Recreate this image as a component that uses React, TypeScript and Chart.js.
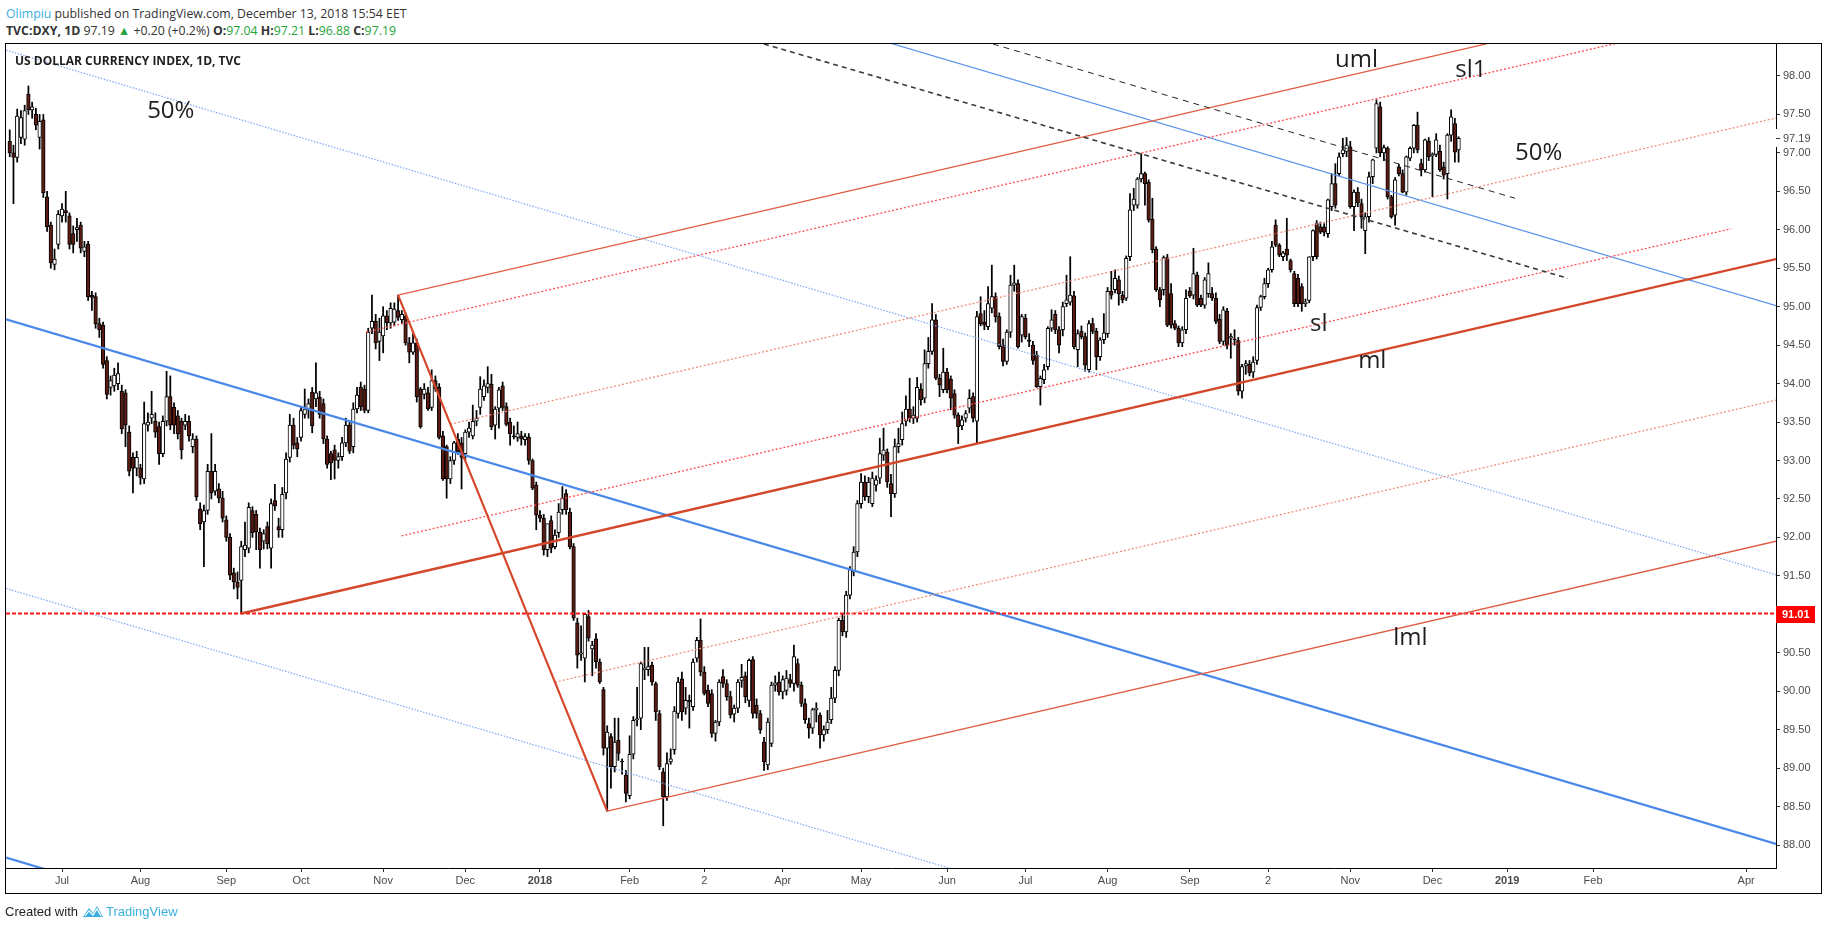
import React, { useEffect, useRef } from "react";
import { Chart, registerables } from "chart.js";

Chart.register(...registerables);

// ---------- Daily OHLC, TVC:DXY (bar index 0 = 13 Jun 2017, last = 13 Dec 2018) ----------
const opens = [
  97.15,97.00,96.94,97.20,97.18,97.76,97.56,97.50,97.20,97.43,
  96.43,96.06,95.55,95.81,96.18,96.25,96.18,95.95,96.00,96.06,
  95.72,95.81,95.15,95.13,94.78,94.76,94.30,93.95,93.97,94.00,
  93.90,93.88,93.37,93.04,92.90,92.90,92.76,93.46,93.55,93.51,
  93.44,93.09,93.51,93.83,93.69,93.58,93.51,93.46,93.51,93.18,
  93.28,92.37,92.20,92.35,92.86,92.60,92.63,92.51,92.23,92.00,
  91.54,91.42,91.44,91.84,91.86,92.35,92.30,92.07,91.95,92.14,
  91.86,92.48,92.14,92.10,92.58,93.04,93.46,93.23,93.30,93.60,
  93.66,93.89,93.80,93.82,93.74,93.28,93.09,93.14,93.00,93.05,
  93.23,93.46,93.18,93.67,93.95,93.93,93.65,94.72,94.81,94.55,
  94.62,94.88,94.79,94.80,94.95,94.83,94.88,94.53,94.41,94.53,
  93.93,93.86,93.88,93.69,94.04,93.95,93.32,93.18,92.76,93.00,
  93.28,93.23,93.09,93.37,93.32,93.51,93.69,93.83,93.95,93.99,
  93.46,93.68,93.97,93.70,93.50,93.32,93.30,93.32,93.27,93.30,
  93.00,92.68,92.29,92.25,91.84,92.22,91.88,92.06,92.36,92.57,
  92.33,91.88,90.89,90.48,90.43,90.97,90.55,90.68,90.38,90.02,
  89.26,89.41,89.02,89.36,89.09,88.91,88.64,89.18,89.63,89.65,
  90.28,90.28,90.34,90.10,89.71,88.95,88.63,89.08,89.24,89.71,
  90.16,89.78,89.88,89.80,90.43,90.66,90.25,90.01,89.97,89.45,
  89.60,90.19,90.10,89.93,89.70,89.78,90.14,90.20,89.88,90.41,
  89.82,89.71,89.34,89.04,89.32,90.08,90.12,89.99,90.01,90.15,
  90.10,90.36,90.08,89.84,89.58,89.52,89.76,89.69,89.43,89.50,
  89.63,89.91,90.27,90.92,90.77,91.25,91.55,91.81,92.44,92.72,
  92.53,92.44,92.68,92.77,93.07,93.11,92.70,92.57,93.18,93.27,
  93.51,93.67,93.55,93.55,93.93,93.81,94.26,94.42,94.83,94.07,
  93.92,94.15,94.06,93.87,93.59,93.45,93.55,93.68,93.83,93.51,
  94.91,94.80,94.74,94.98,95.13,94.87,94.50,94.29,94.67,95.28,
  95.30,94.63,94.85,94.57,94.50,94.37,93.96,94.05,94.22,94.72,
  94.90,94.70,94.70,95.04,95.06,95.14,94.44,94.68,94.61,94.18,
  94.78,94.68,94.35,94.57,94.65,95.20,95.22,95.35,95.15,95.11,
  95.65,96.32,96.32,96.66,96.73,96.62,96.14,95.75,95.22,95.22,
  95.64,95.17,94.78,94.72,94.53,94.70,95.20,95.15,95.41,95.11,
  95.02,95.17,95.17,95.11,94.84,94.55,94.94,94.59,94.58,94.56,
  93.90,94.23,94.25,94.15,94.30,94.99,95.13,95.30,95.48,96.06,
  95.80,95.65,95.75,95.60,95.43,95.37,95.26,95.04,95.08,95.65,
  96.08,96.04,96.04,95.95,96.30,96.60,96.73,96.99,97.02,97.08,
  96.30,96.49,96.34,95.99,96.17,96.69,97.06,97.60,97.00,97.06,
  96.43,96.19,96.82,96.73,96.49,96.93,97.06,97.36,96.86,96.78,
  97.15,96.96,96.98,97.02,96.82,96.73,97.23,97.38,97.04,
];
const highs = [
  97.30,97.10,97.57,97.55,97.62,97.87,97.66,97.58,97.50,97.50,
  96.50,96.10,95.75,96.25,96.34,96.50,96.22,96.05,96.15,96.10,
  95.85,95.85,95.20,95.18,94.85,94.80,94.35,94.10,94.20,94.27,
  93.98,93.92,93.45,93.10,93.12,92.95,93.76,93.62,93.90,93.62,
  93.50,93.58,94.16,94.10,93.75,93.65,93.55,93.60,93.58,93.35,
  93.32,92.45,92.42,92.95,93.35,92.95,92.70,92.60,92.28,92.05,
  91.60,91.55,91.95,92.20,92.45,92.40,92.35,92.12,92.10,92.20,
  92.50,92.69,92.25,92.65,93.10,93.60,93.55,93.30,93.70,93.93,
  93.80,93.95,94.27,93.90,93.80,93.32,93.12,93.20,93.10,93.30,
  93.55,93.50,93.75,93.95,94.02,93.98,94.72,95.15,94.90,94.85,
  95.00,94.95,95.05,95.05,95.15,94.95,94.92,94.60,94.65,94.58,
  93.95,94.00,93.95,94.18,94.10,94.00,93.38,93.20,93.05,93.25,
  93.35,93.30,93.40,93.50,93.72,93.65,94.09,94.05,94.22,94.12,
  93.70,93.95,94.02,93.75,93.55,93.45,93.50,93.38,93.35,93.35,
  93.02,92.72,92.35,92.30,92.10,92.28,92.10,92.44,92.66,92.62,
  92.38,91.92,90.95,90.85,91.01,91.05,90.65,90.75,90.42,90.05,
  89.55,89.45,89.65,89.65,89.12,88.97,89.42,89.67,90.05,90.38,
  90.57,90.57,90.38,90.12,89.75,89.00,89.20,89.25,89.80,90.18,
  90.25,90.05,89.95,90.42,90.70,90.94,90.32,90.08,90.02,89.62,
  90.15,90.28,90.15,90.00,89.82,90.15,90.35,90.25,90.42,90.45,
  89.90,89.75,89.40,89.65,90.12,90.20,90.25,90.20,90.27,90.22,
  90.60,90.42,90.12,89.90,89.65,89.78,89.85,89.72,89.55,89.75,
  90.05,90.32,90.95,91.00,91.30,91.62,91.88,92.48,92.83,92.80,
  92.78,92.85,92.80,93.29,93.42,93.15,92.82,93.28,93.42,93.63,
  93.84,94.07,93.70,94.08,94.00,94.44,94.60,95.04,94.90,94.12,
  94.46,94.20,94.10,93.92,93.62,93.58,93.65,93.92,93.88,94.94,
  95.13,94.95,95.26,95.54,95.18,94.92,94.58,94.70,95.41,95.54,
  95.35,94.90,94.90,94.65,94.55,94.42,94.10,94.25,94.74,94.96,
  94.95,94.74,95.06,95.41,95.65,95.20,94.70,94.75,94.66,94.82,
  94.85,94.72,94.60,94.91,95.25,95.46,95.48,95.40,95.20,95.66,
  96.47,96.54,96.68,96.99,96.75,96.65,96.41,95.78,95.25,95.66,
  95.68,95.30,94.82,94.75,94.74,95.22,95.25,95.76,95.45,95.15,
  95.38,95.57,95.25,95.18,94.90,95.00,94.98,94.65,94.70,94.60,
  94.25,94.30,94.30,94.35,95.02,95.15,95.37,95.50,95.85,96.13,
  95.82,95.72,96.15,95.62,95.46,95.42,95.30,95.10,95.65,96.00,
  96.12,96.10,96.08,96.40,96.73,96.86,97.00,97.19,97.20,97.15,
  96.52,96.55,96.40,96.22,96.75,96.92,97.69,97.66,97.10,97.08,
  96.45,96.68,96.85,96.78,96.96,97.08,97.37,97.53,96.92,97.18,
  97.20,97.00,97.25,97.10,96.88,97.25,97.56,97.45,97.21,
];
const lows = [
  96.95,96.34,96.88,97.12,97.10,97.50,97.45,97.30,97.05,96.42,
  95.98,95.50,95.48,95.75,96.10,96.10,95.75,95.70,95.85,95.70,
  95.65,95.08,94.95,94.72,94.60,94.20,93.80,93.85,93.90,93.92,
  93.35,93.18,92.80,92.58,92.80,92.69,92.70,93.38,93.48,93.30,
  92.95,93.05,93.45,93.40,93.35,93.28,93.02,93.40,93.25,93.10,
  92.48,92.10,91.62,92.30,92.50,92.55,92.45,92.20,91.95,91.45,
  91.33,91.20,91.01,91.75,91.80,92.00,91.84,91.60,91.85,91.85,
  91.60,92.35,92.00,92.00,92.50,92.98,93.15,93.05,93.25,93.55,
  93.55,93.36,93.70,93.55,93.22,92.90,92.75,92.76,92.90,93.00,
  93.18,93.09,93.10,93.62,93.65,93.62,93.62,94.65,94.45,94.30,
  94.40,94.70,94.72,94.75,94.82,94.78,94.50,94.27,94.38,93.76,
  93.42,93.80,93.65,93.65,93.90,93.28,92.74,92.51,92.70,92.95,
  93.08,92.63,93.00,93.30,93.28,93.45,93.60,93.78,93.88,93.40,
  93.28,93.42,93.65,93.45,93.20,93.28,93.25,93.20,93.20,92.95,
  92.62,92.10,92.20,91.77,91.75,91.80,91.85,92.00,92.30,92.30,
  91.85,90.92,90.30,90.40,90.12,90.65,90.20,90.30,90.10,89.17,
  88.44,88.74,88.95,89.10,88.92,88.56,88.60,89.12,89.55,89.50,
  90.15,90.20,90.08,89.62,88.98,88.25,88.58,89.05,89.18,89.65,
  89.62,89.70,89.52,89.75,90.38,90.20,89.95,89.80,89.40,89.35,
  89.55,90.05,89.88,89.65,89.60,89.72,90.05,89.85,89.80,89.65,
  89.65,89.45,88.97,88.98,89.28,90.00,89.95,89.90,89.95,90.05,
  90.00,90.05,89.80,89.58,89.39,89.45,89.60,89.26,89.35,89.45,
  89.58,89.85,90.20,90.72,90.70,91.20,91.50,91.75,92.38,92.48,
  92.45,92.40,92.60,92.70,93.00,92.65,92.27,92.52,93.10,93.20,
  93.45,93.50,93.48,93.50,93.72,93.75,94.20,94.38,94.05,93.83,
  93.88,93.88,93.66,93.55,93.22,93.40,93.50,93.62,93.50,93.22,
  94.75,94.70,94.70,94.92,94.80,94.45,94.23,94.25,94.60,95.20,
  94.46,94.54,94.58,94.48,94.25,93.95,93.72,94.00,94.18,94.68,
  94.65,94.40,94.62,95.00,95.02,94.45,94.22,94.58,94.16,94.15,
  94.65,94.18,94.30,94.52,94.60,95.10,95.18,95.02,95.05,95.08,
  95.60,96.25,96.28,96.62,96.32,96.10,95.70,95.20,95.00,95.15,
  94.74,94.72,94.70,94.48,94.48,94.65,95.12,95.10,95.00,95.00,
  94.98,95.12,95.08,94.78,94.52,94.50,94.45,94.33,94.50,93.85,
  93.81,94.12,94.10,94.08,94.25,94.95,95.10,95.25,95.45,95.78,
  95.65,95.60,95.60,95.45,95.00,95.00,94.94,95.00,95.05,95.60,
  95.62,95.95,95.92,95.90,96.25,96.28,96.70,96.95,96.95,96.28,
  95.99,96.30,96.02,95.69,96.10,96.60,97.00,96.95,96.90,96.40,
  96.15,96.06,96.70,96.48,96.45,96.90,97.00,97.00,96.70,96.75,
  96.90,96.43,96.95,96.76,96.66,96.40,97.15,96.88,96.88,
];
const closes = [
  97.00,96.94,97.48,97.46,97.55,97.56,97.60,97.36,97.41,96.48,
  96.04,95.57,95.62,96.20,96.27,96.22,95.81,95.81,96.03,95.76,
  95.78,95.13,95.12,94.78,94.70,94.25,93.86,94.04,94.11,94.13,
  93.41,93.46,92.86,92.90,93.04,92.78,93.48,93.50,93.60,93.37,
  93.09,93.51,93.83,93.46,93.46,93.35,93.14,93.51,93.32,93.28,
  92.53,92.18,92.35,92.86,92.58,92.86,92.51,92.25,92.00,91.51,
  91.42,91.35,91.88,91.90,92.39,92.06,92.07,91.84,92.05,91.92,
  92.44,92.41,92.10,92.56,93.02,93.46,93.20,93.15,93.65,93.67,
  93.74,93.45,93.88,93.60,93.28,92.95,92.97,93.00,93.05,93.23,
  93.46,93.12,93.67,93.85,93.70,93.65,94.67,94.81,94.53,94.67,
  94.88,94.79,94.98,94.97,94.86,94.90,94.53,94.41,94.53,93.83,
  93.44,93.93,93.67,94.04,93.93,93.30,92.76,92.76,93.00,93.23,
  93.11,93.04,93.37,93.42,93.51,93.55,93.93,93.97,94.00,93.44,
  93.67,93.92,93.69,93.47,93.35,93.31,93.35,93.28,93.31,93.00,
  92.64,92.29,92.25,91.84,92.18,91.86,92.03,92.33,92.51,92.36,
  91.88,90.95,90.47,90.50,91.00,90.69,90.60,90.38,90.12,89.26,
  89.47,89.02,89.34,89.19,89.08,88.67,89.18,89.62,89.64,90.36,
  90.30,90.32,90.12,89.73,89.02,88.63,89.06,89.12,89.74,90.12,
  89.73,89.88,89.86,90.38,90.66,90.25,89.97,89.84,89.45,89.60,
  90.12,90.10,89.93,89.69,89.78,90.12,90.18,89.93,90.40,89.71,
  89.71,89.50,89.08,89.60,90.08,90.11,89.99,90.15,90.17,90.10,
  90.45,90.08,89.84,89.63,89.52,89.76,89.78,89.43,89.50,89.60,
  89.91,90.27,90.92,90.77,91.25,91.58,91.81,92.44,92.72,92.53,
  92.72,92.77,92.75,93.09,93.14,92.72,92.57,93.18,93.22,93.48,
  93.67,93.55,93.59,93.95,93.79,94.26,94.42,94.83,94.07,93.98,
  94.15,93.92,93.81,93.59,93.44,93.53,93.61,93.81,93.55,94.87,
  94.78,94.76,95.04,95.13,94.87,94.48,94.29,94.67,95.28,95.31,
  94.48,94.87,94.61,94.55,94.30,93.96,94.07,94.18,94.72,94.83,
  94.70,94.50,95.00,95.09,95.15,94.48,94.65,94.61,94.24,94.78,
  94.68,94.35,94.57,94.66,95.20,95.15,95.37,95.17,95.09,95.63,
  96.26,96.40,96.66,96.73,96.60,96.13,95.74,95.22,95.09,95.64,
  94.76,94.76,94.72,94.53,94.70,95.11,95.14,95.43,95.02,95.02,
  95.35,95.43,95.11,94.81,94.55,94.96,94.50,94.61,94.57,93.90,
  94.22,94.26,94.14,94.28,94.99,95.13,95.30,95.48,95.78,95.80,
  95.67,95.70,95.67,95.48,95.04,95.04,95.04,95.06,95.65,95.99,
  95.65,95.97,95.97,96.39,96.60,96.32,96.95,97.04,97.10,96.30,
  96.49,96.35,96.17,96.17,96.69,96.91,97.64,97.00,97.07,96.43,
  96.17,96.65,96.73,96.49,96.95,97.06,97.36,97.04,96.78,97.17,
  96.95,96.98,97.17,96.78,96.71,97.23,97.47,97.01,97.19,
];

// ---------- Axes ----------
const xTickBars = [14, 35, 58, 78, 100, 122, 142, 166, 186, 207, 228, 251, 272, 294, 316, 337, 359, 381, 401, 424, 465];
const xTickLabels = ["Jul", "Aug", "Sep", "Oct", "Nov", "Dec", "2018", "Feb", "2", "Apr", "May", "Jun", "Jul", "Aug", "Sep", "2", "Nov", "Dec", "2019", "Feb", "Apr"];
const priceTicks = [88, 88.5, 89, 89.5, 90, 90.5, 91, 91.5, 92, 92.5, 93, 93.5, 94, 94.5, 95, 95.5, 96, 96.5, 97, 97.5, 98];
const xRange = [-1, 473];
const yRange = [87.701, 98.429];

// ---------- Drawings (anchors in [bar index, price]) ----------
const pivotA = [62, 91.01];
const pivotB = [104, 95.15];
const pivotC = [160, 88.44];
const sl1Anchor = [95.4, 94.67];
const slAnchor = [104.9, 92.02];
const slEndBar = 461;
const blueMidLine = [[-1, 94.836], [473, 88.013]];
const blueHalfWidth = 3.5;
const dashLineA = [[202, 98.416], [417.3, 95.369]];
const dashLineB = [[263.3, 98.416], [403.1, 96.41]];
const levelLine = 91.01;
const lastPrice = 97.19;
const chartNotes = [
  { text: "50%", at: [36.8, 97.454] },
  { text: "uml", at: [354.9, 98.117] },
  { text: "sl1", at: [387.1, 97.987] },
  { text: "50%", at: [403.1, 96.908] },
  { text: "sl", at: [348.2, 94.684] },
  { text: "ml", at: [361.1, 94.203] },
  { text: "lml", at: [370.5, 90.6] },
];

const GREEN = "#26a33a";

function seg(p: number[], q: number[], color: string, width: number, dash: number[], order: number) {
  return {
    type: "line" as const,
    data: [{ x: p[0], y: p[1] }, { x: q[0], y: q[1] }],
    borderColor: color,
    borderWidth: width,
    borderDash: dash,
    pointRadius: 0,
    pointHoverRadius: 0,
    fill: false,
    tension: 0,
    order,
    clip: 0,
  };
}

function buildLines() {
  const XR = xRange[1];
  const M = [(pivotB[0] + pivotC[0]) / 2, (pivotB[1] + pivotC[1]) / 2];
  const slope = (M[1] - pivotA[1]) / (M[0] - pivotA[0]);
  const ray = (p: number[], xe: number) => [xe, p[1] + slope * (xe - p[0])];
  const up = [(pivotB[0] + M[0]) / 2, (pivotB[1] + M[1]) / 2];
  const dn = [(pivotC[0] + M[0]) / 2, (pivotC[1] + M[1]) / 2];
  const off = (line: number[][], d: number) => [[line[0][0], line[0][1] + d], [line[1][0], line[1][1] + d]];
  const redDot = "#ff5050";
  const salmon = "#f0907c";
  const out: any[] = [];
  // blue channel
  const b2 = off(blueMidLine, 2 * blueHalfWidth);
  const b1 = off(blueMidLine, blueHalfWidth);
  const b_1 = off(blueMidLine, -blueHalfWidth);
  const b_2 = off(blueMidLine, -2 * blueHalfWidth);
  out.push(seg(b2[0], b2[1], "#5b93ec", 1.2, [], 6));
  out.push(seg(b1[0], b1[1], "#7fa9f0", 1.2, [1.5, 1.5], 6));
  out.push(seg(blueMidLine[0], blueMidLine[1], "#4a88ea", 2.2, [], 6));
  out.push(seg(b_1[0], b_1[1], "#7fa9f0", 1.2, [1.5, 1.5], 6));
  out.push(seg(b_2[0], b_2[1], "#4a88ea", 2.2, [], 6));
  // horizontal level
  out.push(seg([xRange[0], levelLine], [XR, levelLine], "#ff1a1a", 2, [4, 2], 5));
  // pitchfork
  out.push(seg(pivotB, pivotC, "#d4472a", 2.2, [], 4));
  out.push(seg(pivotA, ray(pivotA, XR), "#d4472a", 2.4, [], 4));
  out.push(seg(pivotB, ray(pivotB, XR), "#e25d45", 1.3, [], 4));
  out.push(seg(pivotC, ray(pivotC, XR), "#e25d45", 1.3, [], 4));
  out.push(seg(up, ray(up, XR), salmon, 1.3, [2, 2], 4));
  out.push(seg(dn, ray(dn, XR), salmon, 1.3, [2, 2], 4));
  out.push(seg(sl1Anchor, ray(sl1Anchor, XR), redDot, 1.3, [2, 2], 4));
  out.push(seg(slAnchor, ray(slAnchor, slEndBar), redDot, 1.3, [2, 2], 4));
  // black dashed
  out.push(seg(dashLineA[0], dashLineA[1], "#3a3a3a", 1.6, [5, 4], 3));
  out.push(seg(dashLineB[0], dashLineB[1], "#222222", 1, [6, 5], 3));
  return out;
}

const overlayPlugin = {
  id: "overlay",
  afterDraw(chart: any) {
    const { ctx, chartArea: a } = chart;
    const x = chart.scales.x;
    const y = chart.scales.y;
    ctx.save();
    // outer frame
    ctx.strokeStyle = "#000";
    ctx.lineWidth = 1;
    ctx.strokeRect(5.5, 43.5, 1816, 850);
    // chart title
    ctx.fillStyle = "#1e1e1e";
    ctx.textBaseline = "alphabetic";
    ctx.textAlign = "left";
    ctx.font = "bold 12px 'Open Sans', sans-serif";
    ctx.fillText("US DOLLAR CURRENCY INDEX, 1D, TVC", a.left + 9, a.top + 22);
    // notes
    ctx.font = "24px 'Open Sans', sans-serif";
    ctx.fillStyle = "#1e1e1e";
    for (const n of chartNotes) {
      ctx.fillText(n.text, x.getPixelForValue(n.at[0]), y.getPixelForValue(n.at[1]));
    }
    // level price label
    const py = Math.round(y.getPixelForValue(levelLine));
    ctx.fillStyle = "#ff0000";
    ctx.fillRect(a.right, py - 8, 39, 17);
    ctx.fillStyle = "#fff";
    ctx.font = "bold 11px 'Liberation Sans', Arial, sans-serif";
    ctx.textBaseline = "middle";
    ctx.fillText("91.01", a.right + 6, py + 1);
    // last price label
    const lp = Math.round(y.getPixelForValue(lastPrice));
    ctx.fillStyle = "#fff";
    ctx.fillRect(a.right - 1, lp - 9, 40, 18);
    ctx.strokeStyle = "#333";
    ctx.beginPath();
    ctx.moveTo(a.right, lp + 0.5);
    ctx.lineTo(a.right + 4, lp + 0.5);
    ctx.stroke();
    ctx.fillStyle = "#4a4a4a";
    ctx.font = "11px 'Liberation Sans', Arial, sans-serif";
    ctx.fillText("97.19", a.right + 7, lp + 1);
    ctx.restore();
  },
};

function DxyChart() {
  const ref = useRef<HTMLCanvasElement | null>(null);
  useEffect(() => {
    if (!ref.current) return;
    const bars = closes.map((_, i) => i);
    const wickData = bars.map((i) => ({ x: i, y: [lows[i], highs[i]] }));
    const bodyData = bars.map((i) => ({ x: i, y: [opens[i], closes[i]] }));
    const bodyColors = bars.map((i) => (closes[i] >= opens[i] ? "#ffffff" : "#5a1c12"));
    const axisFont = { family: "'Liberation Sans', Arial, sans-serif", size: 11 };
    const chart = new Chart(ref.current, {
      type: "bar",
      data: {
        datasets: [
          {
            type: "bar",
            data: wickData as any,
            backgroundColor: "#000",
            borderWidth: 0,
            barThickness: 1.1,
            grouped: false,
            order: 20,
          } as any,
          {
            type: "bar",
            data: bodyData as any,
            backgroundColor: bodyColors,
            borderColor: "#000",
            borderWidth: 1,
            borderSkipped: false,
            barThickness: 3.6,
            grouped: false,
            order: 19,
          } as any,
          ...buildLines(),
        ],
      },
      options: {
        animation: false,
        responsive: false,
        maintainAspectRatio: false,
        layout: { padding: { left: 6, top: 43, right: 7, bottom: 37 } },
        plugins: { legend: { display: false }, tooltip: { enabled: false } },
        events: [],
        scales: {
          x: {
            type: "linear",
            min: xRange[0],
            max: xRange[1],
            offset: false,
            position: "bottom",
            grid: { display: true, drawOnChartArea: false, drawTicks: true, tickLength: 4, color: "#333", offset: false },
            border: { display: true, color: "#000", width: 1 },
            ticks: {
              autoSkip: false,
              maxRotation: 0,
              padding: 2,
              color: "#4a4a4a",
              font: (c: any) => ({
                ...axisFont,
                weight: /^\d{4}$/.test(xTickLabels[xTickBars.indexOf(c.tick ? c.tick.value : -99)] || "") ? "bold" : "normal",
              }),
              callback: (v: any) => {
                const k = xTickBars.indexOf(Number(v));
                return k >= 0 ? xTickLabels[k] : "";
              },
            },
            afterBuildTicks: (s: any) => {
              s.ticks = xTickBars.map((v) => ({ value: v }));
            },
            afterFit: (s: any) => {
              s.height = 25;
            },
          },
          y: {
            type: "linear",
            position: "right",
            min: yRange[0],
            max: yRange[1],
            grid: { display: true, drawOnChartArea: false, drawTicks: true, tickLength: 4, color: "#333" },
            border: { display: true, color: "#000", width: 1 },
            ticks: {
              autoSkip: false,
              padding: 3,
              color: "#4a4a4a",
              font: axisFont,
              callback: (v: any) => Number(v).toFixed(2),
            },
            afterBuildTicks: (s: any) => {
              s.ticks = priceTicks.map((v) => ({ value: v }));
            },
            afterFit: (s: any) => {
              s.width = 45;
            },
          },
        },
      } as any,
      plugins: [overlayPlugin],
    });
    return () => chart.destroy();
  }, []);
  return <canvas ref={ref} width={1828} height={930} style={{ position: "absolute", left: 0, top: 0, width: 1828, height: 930 }} />;
}

export default function App() {
  const hdr: React.CSSProperties = {
    position: "absolute",
    left: 6,
    whiteSpace: "nowrap",
    fontFamily: "'Open Sans', sans-serif",
    fontSize: 12.3,
    color: "#333",
    lineHeight: "16px",
  };
  return (
    <div style={{ position: "absolute", left: 0, top: 0, width: 1828, height: 930, background: "#fff", overflow: "hidden" }}>
      <div style={{ ...hdr, top: 6 }}>
        <span style={{ color: "#3bb0e0" }}>Olimpiu</span> published on TradingView.com, December 13, 2018 15:54 EET
      </div>
      <div style={{ ...hdr, top: 23 }}>
        <b>TVC:DXY, 1D</b> 97.19 <span style={{ color: GREEN }}>▲</span> +0.20 (+0.2%) <b>O:</b>
        <span style={{ color: GREEN }}>97.04</span> <b>H:</b>
        <span style={{ color: GREEN }}>97.21</span> <b>L:</b>
        <span style={{ color: GREEN }}>96.88</span> <b>C:</b>
        <span style={{ color: GREEN }}>97.19</span>
      </div>
      <DxyChart />
      <div
        style={{
          position: "absolute",
          left: 5,
          top: 903,
          display: "flex",
          alignItems: "center",
          whiteSpace: "nowrap",
          fontFamily: "'Liberation Sans Narrow', 'Liberation Sans', Arial, sans-serif",
          fontSize: 13,
          color: "#222",
        }}
      >
        <span>Created with</span>
        <svg width="22" height="16" viewBox="0 0 22 16" style={{ margin: "0 2px 0 4px" }}>
          <path d="M1 14 L7 5 L11 10 L15 3 L21 14 Z" fill="#3bb0e0" />
          <path d="M3 13 L7 8 L11 12 L15 6 L19 13" fill="none" stroke="#fff" strokeWidth="1.2" />
        </svg>
        <span style={{ color: "#3bb0e0" }}>TradingView</span>
      </div>
    </div>
  );
}
